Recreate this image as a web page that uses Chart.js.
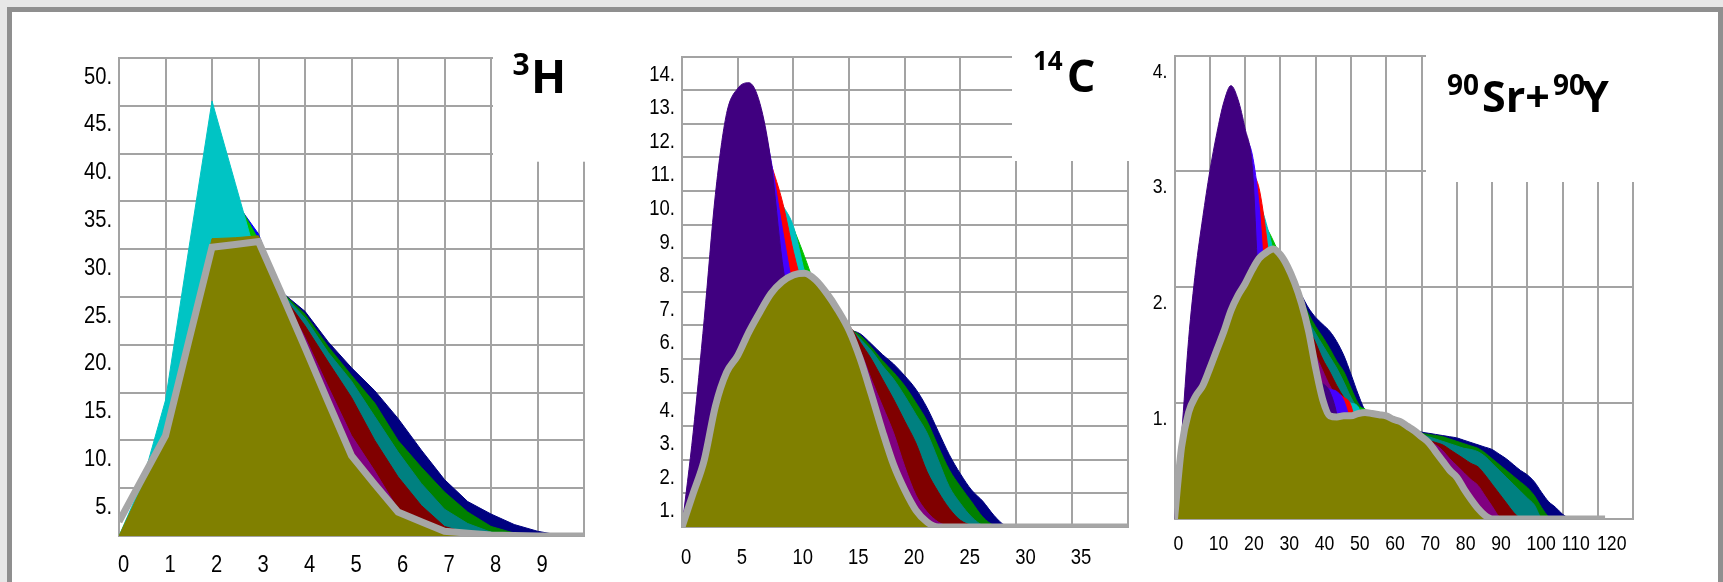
<!DOCTYPE html>
<html>
<head>
<meta charset="utf-8">
<script src="https://cdn.jsdelivr.net/npm/chart.js@4.4.1/dist/chart.umd.min.js"></script>
<style>
    html, body { margin: 0; padding: 0; }
    body { width: 1723px; height: 582px; background: #e7e7e7; position: relative; overflow: hidden; }
    #frame { position: absolute; left: 7px; top: 7px; width: 1716px; height: 600px; box-sizing: border-box;
             border: 5px solid #8f8f8f; background: #ffffff; }
    canvas { position: absolute; }
</style>
</head>
<body>
<div id="frame"></div>
<canvas id="chart-h3" width="600" height="562" style="left:20px;top:20px"></canvas>
<canvas id="chart-c14" width="540" height="562" style="left:620px;top:20px"></canvas>
<canvas id="chart-sr90" width="585" height="562" style="left:1130px;top:20px"></canvas>
<script>
// ---- 3H ----
const h3X      = [0, 0.5, 1, 1.5, 2, 2.5, 3, 3.5, 4, 4.5, 5, 5.5, 6, 6.5, 7, 7.5, 8, 8.5, 9, 9.5, 10];
const h3Line   = [1.5, 6.0, 10.5, 20.4, 30.2, 30.5, 30.8, 25.3, 19.7, 14.0, 8.4, 5.4, 2.5, 1.5, 0.5, 0.3, 0.1, 0.05, 0, 0, 0];
const h3Olive  = [0, 5.2, 10.0, 20.8, 31.1, 31.2, 31.4, 25.8, 20.0, 14.3, 8.6, 5.6, 2.6, 1.6, 0.6, 0.35, 0.1, 0.05, 0];
const h3Cyan   = [0, 5.6, 14.2, 30.0, 45.5, 36.9, 28.3, 22.0];
const h3Lime   = [null, null, null, null, 38.5, 35.3, 31.0, 24.5];
const h3Blue   = [null, null, null, null, 38.0, 35.0, 31.6, 25.0];
const h3Purple = [null, null, null, null, null, null, 30.5, 25.2, 20.8, 15.6, 10.5, 6.8, 2.8, 1.2, 0.4, 0.1, 0];
const h3Maroon = [null, null, null, null, null, null, 30.5, 25.3, 22.0, 18.2, 14.5, 10.0, 6.2, 3.2, 1.0, 0.3, 0.05, 0];
const h3Teal   = [null, null, null, null, null, null, 30.5, 25.4, 22.8, 19.2, 16.2, 12.5, 8.8, 5.5, 2.8, 1.3, 0.4, 0.05, 0];
const h3Green  = [null, null, null, null, null, null, 30.5, 25.5, 23.2, 19.8, 16.8, 13.9, 10.0, 7.2, 4.6, 2.5, 1.0, 0.3, 0.05, 0];
const h3Navy   = [null, null, null, null, null, null, 30.5, 25.5, 23.5, 20.3, 17.6, 15.2, 12.3, 9.0, 5.9, 3.6, 2.3, 1.2, 0.5, 0.05, 0];

// ---- 14C ----
const c14X      = [0, 1, 2, 3, 4, 5, 6, 7, 8, 9, 10, 11, 12, 13, 14, 15, 16, 17, 18, 19, 20,
                   21, 22, 23, 24, 25, 26, 27, 28, 29, 30, 31, 32, 33, 34, 35, 36, 37, 38, 39, 40];
const c14Line   = [0, 1.0, 2.0, 3.6, 4.6, 5.1, 5.8, 6.4, 6.95, 7.3, 7.5, 7.55, 7.35, 6.95, 6.45, 5.85, 5.0, 3.95, 2.85, 1.85, 1.1,
                   0.5, 0.15, 0, 0, 0, 0, 0, 0, 0, 0, 0, 0, 0, 0, 0, 0, 0, 0, 0, 0];
const c14Indigo = [0, 2.8, 6.2, 9.9, 12.3, 13.05, 13.22, 12.6, 10.85, 7.9, 6.0];
const c14Violet = [null, null, null, null, null, null, null, 12.5, 10.9, 8.9, 7.0];
const c14Red    = [null, null, null, null, null, null, null, null, 10.8, 9.7, 8.2, 6.9];
const c14Cyan   = [null, null, null, null, null, null, null, null, null, 9.6, 8.95, 7.6, 6.5];
const c14Lime   = [null, null, null, null, null, null, null, null, null, null, 8.9, 8.05, 7.1, 6.0];
const c14Purple = [null, null, null, null, null, null, null, null, null, null, null, null, null, null,
                   6.3, 5.85, 5.25, 4.4, 3.6, 2.8, 1.8, 0.95, 0.45, 0.15, 0];
const c14Maroon = [null, null, null, null, null, null, null, null, null, null, null, null, null, null,
                   6.3, 6.0, 5.5, 5.0, 4.4, 3.8, 3.15, 2.5, 1.65, 1.05, 0.55, 0.2, 0.05, 0];
const c14Teal   = [null, null, null, null, null, null, null, null, null, null, null, null, null, null,
                   6.3, 5.95, 5.6, 5.25, 4.8, 4.4, 3.9, 3.35, 2.8, 2.0, 1.2, 0.7, 0.3, 0.05, 0];
const c14Green  = [null, null, null, null, null, null, null, null, null, null, null, null, null, null,
                   6.3, 5.92, 5.7, 5.35, 4.95, 4.6, 4.2, 3.7, 3.15, 2.4, 1.7, 1.2, 0.75, 0.3, 0.05, 0];
const c14Navy   = [null, null, null, null, null, null, null, null, null, null, null, null, null, null,
                   6.3, 5.9, 5.75, 5.45, 5.13, 4.85, 4.5, 4.1, 3.55, 2.85, 2.15, 1.58, 1.1, 0.77, 0.35, 0.05, 0];

// ---- 90Sr + 90Y ----
const sr90X      = [0, 2, 4, 6, 8, 10, 12, 14, 16, 18, 20, 22, 24, 26, 28, 30, 32, 34, 36, 38, 40,
                    42, 44, 46, 48, 50, 52, 54, 56, 58, 60, 62, 64, 66, 68, 70, 72, 74, 76, 78, 80,
                    82, 84, 86, 88, 90, 92, 94, 96, 98, 100, 102, 104, 106, 108, 110, 112, 114, 116, 118, 120, 122];
const sr90Line   = [0, 0.62, 0.92, 1.06, 1.15, 1.3, 1.46, 1.62, 1.8, 1.93, 2.03, 2.15, 2.25, 2.3, 2.33, 2.28, 2.18, 2.04, 1.86, 1.62, 1.3,
                    1.03, 0.89, 0.88, 0.89, 0.89, 0.91, 0.92, 0.91, 0.9, 0.89, 0.86, 0.84, 0.8, 0.76, 0.71, 0.66, 0.58, 0.5, 0.42, 0.36,
                    0.26, 0.17, 0.09, 0.03, 0, 0, 0, 0, 0, 0, 0, 0, 0, 0, 0, 0, 0, 0, 0, 0, 0];
const sr90Indigo = [0, 0.72, 1.55, 2.15, 2.6, 3.0, 3.33, 3.6, 3.74, 3.62, 3.37, 3.05, 1.95, 1.7, 1.55, 1.45, 1.38, 1.32, 1.27, 1.22,
                    1.2, 1.17, 1.1, 0.9, 0.5, 0.2, 0];
const sr90Violet = [null, null, null, null, null, null, null, null, null, null,
                    3.3, 3.15, 2.7, 1.9, 1.7, 1.55, 1.42, 1.32, 1.25, 1.2, 1.18, 1.15, 1.12, 1.1, 1.02, 0.8, 0.4, 0.1, 0];
const sr90Red    = [null, null, null, null, null, null, null, null, null, null, null,
                    3.0, 2.85, 2.45, 1.9, 1.65, 1.5, 1.35, 1.22, 1.18, 1.15, 1.13, 1.1, 1.08, 1.05, 0.98, 0.7, 0.3, 0];
const sr90Cyan   = [null, null, null, null, null, null, null, null, null, null, null, null,
                    2.75, 2.55, 2.3, 1.9, 1.6, 1.42, 1.3, 1.2, 1.12, 1.1, 1.07, 1.05, 1.03, 1.0, 0.97, 0.7, 0.3, 0];
const sr90Lime   = [null, null, null, null, null, null, null, null, null, null, null, null, null,
                    2.52, 2.4, 2.25, 2.0, 1.7, 1.45, 1.25, 1.1, 1.07, 1.04, 1.02, 1.0, 0.98, 0.96, 0.95, 0.7, 0.3, 0];
const sr90Purple = [null, null, null, null, null, null, null, null, null, null, null, null, null, null, null,
                    2.2, 2.15, 1.99, 1.8, 1.6, 1.42, 1.28, 1.15, 1.05, 0.97, 0.93, 0.91, 0.92, 0.91, 0.9, 0.89, 0.86, 0.84, 0.8,
                    0.74, 0.7, 0.67, 0.64, 0.59, 0.52, 0.46, 0.4, 0.34, 0.29, 0.2, 0.11, 0.02, 0];
const sr90Maroon = [null, null, null, null, null, null, null, null, null, null, null, null, null, null, null,
                    2.2, 2.15, 2.0, 1.83, 1.65, 1.52, 1.38, 1.27, 1.15, 1.05, 0.97, 0.93, 0.92, 0.91, 0.9, 0.89, 0.86, 0.84, 0.8,
                    0.74, 0.71, 0.68, 0.66, 0.64, 0.6, 0.56, 0.52, 0.48, 0.45, 0.38, 0.3, 0.22, 0.14, 0.06, 0];
const sr90Teal   = [null, null, null, null, null, null, null, null, null, null, null, null, null, null, null,
                    2.2, 2.15, 2.01, 1.86, 1.71, 1.6, 1.5, 1.4, 1.3, 1.18, 1.05, 0.95, 0.92, 0.91, 0.9, 0.89, 0.86, 0.84, 0.8,
                    0.75, 0.73, 0.71, 0.69, 0.67, 0.65, 0.63, 0.61, 0.6, 0.58, 0.54, 0.48, 0.42, 0.36, 0.3, 0.24, 0.18, 0.12, 0.01, 0];
const sr90Green  = [null, null, null, null, null, null, null, null, null, null, null, null, null, null, null,
                    2.2, 2.15, 2.02, 1.9, 1.77, 1.66, 1.57, 1.47, 1.36, 1.27, 1.13, 1.0, 0.93, 0.91, 0.9, 0.89, 0.86, 0.84, 0.8,
                    0.76, 0.74, 0.73, 0.72, 0.71, 0.69, 0.67, 0.65, 0.63, 0.61, 0.57, 0.52, 0.47, 0.42, 0.37, 0.32, 0.27, 0.2, 0.1, 0.02, 0];
const sr90Navy   = [null, null, null, null, null, null, null, null, null, null, null, null, null, null, null,
                    2.2, 2.15, 2.03, 1.93, 1.82, 1.74, 1.68, 1.62, 1.53, 1.41, 1.25, 1.08, 0.94, 0.91, 0.9, 0.89, 0.86, 0.84, 0.8,
                    0.77, 0.75, 0.74, 0.73, 0.72, 0.71, 0.7, 0.68, 0.66, 0.64, 0.62, 0.6, 0.56, 0.52, 0.47, 0.42, 0.38, 0.32, 0.23,
                    0.15, 0.1, 0.04, 0];

const GRID = '#a3a3a3';
const TICK_FONT = "'Liberation Sans', Arial, sans-serif";
const OLIVE = '#808000', LINE = '#a6a6a6';

function areaSet(xs, ys, color, smooth) {
    return {
        data: ys.map((y, i) => ({x: xs[i], y: y})),
        backgroundColor: color,
        borderColor: color,
        borderWidth: 1,
        fill: 'origin',
        pointRadius: 0,
        tension: 0,
        cubicInterpolationMode: smooth ? 'monotone' : 'default'
    };
}

function lineSet(xs, ys, fillColor, smooth) {
    return {
        data: ys.map((y, i) => ({x: xs[i], y: y})),
        borderColor: LINE,
        backgroundColor: fillColor || 'transparent',
        borderWidth: 7,
        fill: fillColor ? 'origin' : false,
        pointRadius: 0,
        tension: 0,
        cubicInterpolationMode: smooth ? 'monotone' : 'default'
    };
}

// white box in the upper right corner with the nuclide name
function nuclideLabel(box, parts) {
    return {
        id: 'nuclide',
        afterDraw(chart) {
            const ctx = chart.ctx;
            ctx.save();
            ctx.fillStyle = '#ffffff';
            ctx.fillRect(box[0], box[1], box[2], box[3]);
            ctx.fillStyle = '#000000';
            ctx.textBaseline = 'alphabetic';
            parts.forEach(p => {
                ctx.font = 'bold ' + p.size + "px 'Open Sans', sans-serif";
                ctx.fillText(p.text, p.x, p.y);
            });
            ctx.restore();
        }
    };
}

// tick labels in a condensed face: x labels start at their grid line,
// y labels sit just below theirs and end with a dot
function narrowTicks(p) {
    const squeeze = 0.84;
    function put(ctx, text, x, y, align) {
        ctx.save();
        ctx.translate(x, y);
        ctx.scale(squeeze, 1);
        ctx.textAlign = align;
        ctx.fillText(text, 0, 0);
        ctx.restore();
    }
    return {
        id: 'narrowTicks',
        afterDraw(chart) {
            const ctx = chart.ctx;
            const xs = chart.scales.x, ys = chart.scales.y;
            ctx.save();
            ctx.fillStyle = '#000000';
            ctx.textBaseline = 'alphabetic';
            ctx.font = p.fontSize + 'px ' + TICK_FONT;
            xs.ticks.forEach(t => {
                if (t.value === p.xMax) return;
                put(ctx, String(t.value), xs.getPixelForValue(t.value) - 1, xs.top + p.xBase, 'left');
            });
            ys.ticks.forEach(t => {
                if (t.value === 0) return;
                put(ctx, t.value + '.', ys.right - 7, ys.getPixelForValue(t.value) + p.yBase, 'right');
            });
            ctx.restore();
        }
    };
}

function drawPanel(id, p) {
    const ctx = document.getElementById(id).getContext('2d');
    return new Chart(ctx, {
        type: 'line',
        data: {datasets: p.datasets},
        plugins: [narrowTicks(p), nuclideLabel(p.box, p.parts)],
        options: {
            responsive: false,
            animation: false,
            events: [],
            devicePixelRatio: 1,
            layout: {padding: {left: 0, top: p.padTop, right: p.padRight, bottom: 0}},
            plugins: {legend: {display: false}, tooltip: {enabled: false}},
            scales: {
                x: {
                    type: 'linear', min: 0, max: p.xMax,
                    afterFit: s => { s.height = p.xAxisH; },
                    grid: {color: GRID, lineWidth: 2, drawTicks: false},
                    border: {color: GRID, width: 2},
                    ticks: {stepSize: p.xStep, display: false, autoSkip: false}
                },
                y: {
                    type: 'linear', min: 0, max: p.yMax,
                    afterFit: s => { s.width = p.yAxisW; },
                    grid: {color: GRID, lineWidth: 2, drawTicks: false},
                    border: {color: GRID, width: 2},
                    ticks: {stepSize: p.yStep, display: false, autoSkip: false}
                }
            }
        }
    });
}

drawPanel('chart-h3', {
    xMax: 10, xStep: 1, yMax: 50, yStep: 5, fontSize: 24, xBase: 36, yBase: 25.5,
    padTop: 38, padRight: 36, yAxisW: 99, xAxisH: 46,
    box: [473, 10, 120, 131.7],
    parts: [{text: '3', x: 492.5, y: 55, size: 30}, {text: 'H', x: 511, y: 72.7, size: 46}],
    datasets: [
        lineSet(h3X, h3Line, null, false),
        areaSet(h3X, h3Olive, OLIVE, false),
        areaSet(h3X, h3Cyan, '#00c4c4', false),
        areaSet(h3X, h3Lime, '#00c000', false),
        areaSet(h3X, h3Blue, '#0000ff', false),
        areaSet(h3X, h3Purple, '#800080', false),
        areaSet(h3X, h3Maroon, '#800000', false),
        areaSet(h3X, h3Teal, '#008080', false),
        areaSet(h3X, h3Green, '#008000', false),
        areaSet(h3X, h3Navy, '#000080', false)
    ]
});

drawPanel('chart-c14', {
    xMax: 40, xStep: 5, yMax: 14, yStep: 1, fontSize: 22, xBase: 37, yBase: 24,
    padTop: 36.5, padRight: 32.5, yAxisW: 62, xAxisH: 55,
    box: [392, 10, 140, 131],
    parts: [{text: '14', x: 413, y: 50, size: 26}, {text: 'C', x: 446.7, y: 72, size: 45}],
    datasets: [
        lineSet(c14X, c14Line, OLIVE, true),
        areaSet(c14X, c14Indigo, '#400080', true),
        areaSet(c14X, c14Violet, '#4400ff', true),
        areaSet(c14X, c14Red, '#ff0000', true),
        areaSet(c14X, c14Cyan, '#00c0c0', true),
        areaSet(c14X, c14Lime, '#00c000', true),
        areaSet(c14X, c14Purple, '#800080', true),
        areaSet(c14X, c14Maroon, '#800000', true),
        areaSet(c14X, c14Teal, '#008080', true),
        areaSet(c14X, c14Green, '#008000', true),
        areaSet(c14X, c14Navy, '#000080', true)
    ]
});

drawPanel('chart-sr90', {
    xMax: 130, xStep: 10, yMax: 4, yStep: 1, fontSize: 21, xBase: 31, yBase: 22,
    padTop: 35.5, padRight: 81.7, yAxisW: 44.5, xAxisH: 63,
    box: [296, 10, 230, 152],
    parts: [
        {text: '90', x: 317, y: 74.8, size: 28},
        {text: 'Sr+', x: 352, y: 91.5, size: 43},
        {text: '90', x: 423, y: 74.8, size: 28},
        {text: 'Y', x: 452, y: 91.5, size: 43}
    ],
    datasets: [
        lineSet(sr90X, sr90Line, OLIVE, true),
        areaSet(sr90X, sr90Indigo, '#400080', true),
        areaSet(sr90X, sr90Violet, '#4400ff', true),
        areaSet(sr90X, sr90Red, '#ff0000', true),
        areaSet(sr90X, sr90Cyan, '#00c0c0', true),
        areaSet(sr90X, sr90Lime, '#00c000', true),
        areaSet(sr90X, sr90Purple, '#800080', true),
        areaSet(sr90X, sr90Maroon, '#800000', true),
        areaSet(sr90X, sr90Teal, '#008080', true),
        areaSet(sr90X, sr90Green, '#008000', true),
        areaSet(sr90X, sr90Navy, '#000080', true)
    ]
});
</script>
</body>
</html>
